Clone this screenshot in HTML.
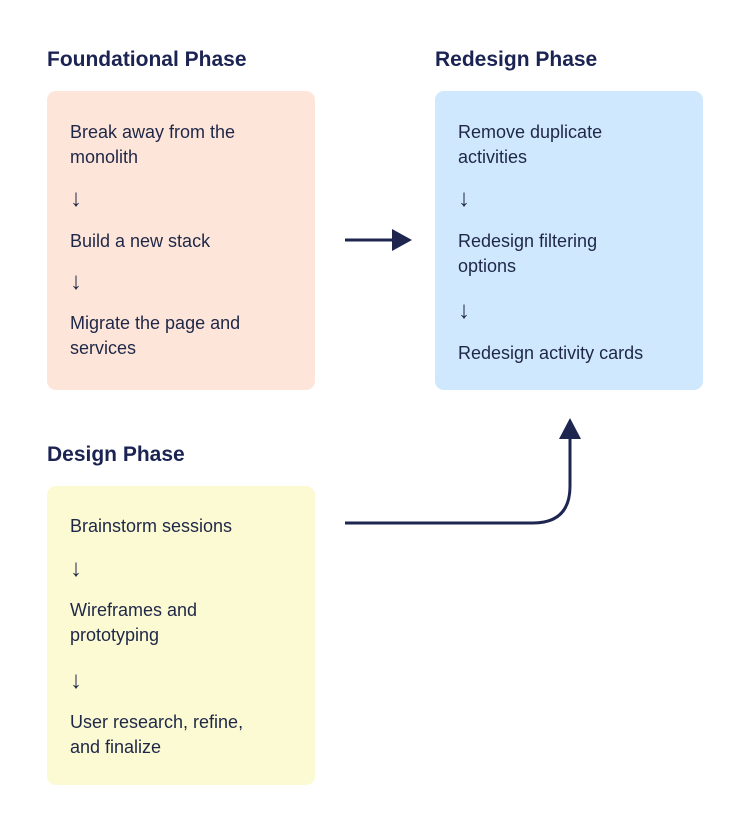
<!DOCTYPE html>
<html><head><style>
body{margin:0;width:750px;height:822px;background:#fff;position:relative;font-family:"Liberation Sans",sans-serif;color:#1e2650;overflow:hidden}
.t{position:absolute;font-size:21px;font-weight:bold;color:#1b2352}
.b{position:absolute;width:268px;height:299px;border-radius:9px}
.x{position:absolute;font-size:18px;line-height:25px;color:#1f2748}
.a{position:absolute;font-size:24px;line-height:24px;color:#1f2748}
</style></head><body>
<div class="t" style="left:47px;top:48px">Foundational Phase</div>
<div class="t" style="left:435px;top:48px">Redesign Phase</div>
<div class="t" style="left:47px;top:443px">Design Phase</div>

<div class="b" style="left:47px;top:91px;background:#fde6d9"></div>
<div class="b" style="left:435px;top:91px;background:#cfe8fd"></div>
<div class="b" style="left:47px;top:486px;background:#fbfad3"></div>

<div class="x" style="left:70px;top:120px">Break away from the<br>monolith</div>
<div class="a" style="left:70px;top:187px">↓</div>
<div class="x" style="left:70px;top:229px">Build a new stack</div>
<div class="a" style="left:70px;top:270px">↓</div>
<div class="x" style="left:70px;top:311px">Migrate the page and<br>services</div>

<div class="x" style="left:458px;top:120px">Remove duplicate<br>activities</div>
<div class="a" style="left:458px;top:187px">↓</div>
<div class="x" style="left:458px;top:229px">Redesign filtering<br>options</div>
<div class="a" style="left:458px;top:299px">↓</div>
<div class="x" style="left:458px;top:341px">Redesign activity cards</div>

<div class="x" style="left:70px;top:514px">Brainstorm sessions</div>
<div class="a" style="left:70px;top:557px">↓</div>
<div class="x" style="left:70px;top:598px">Wireframes and<br>prototyping</div>
<div class="a" style="left:70px;top:669px">↓</div>
<div class="x" style="left:70px;top:710px">User research, refine,<br>and finalize</div>

<svg width="750" height="822" style="position:absolute;left:0;top:0">
<line x1="345" y1="240" x2="395" y2="240" stroke="#1e2650" stroke-width="3"/>
<polygon points="392,229 412,240 392,251" fill="#1e2650"/>
<path d="M345 523 H533 Q570 523 570 486 V438" fill="none" stroke="#1e2650" stroke-width="3"/>
<polygon points="559,439 570,418 581,439" fill="#1e2650"/>
</svg>
</body></html>
